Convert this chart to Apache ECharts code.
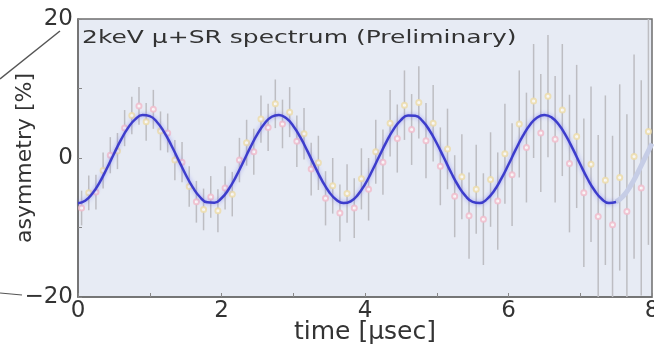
<!DOCTYPE html>
<html>
<head>
<meta charset="utf-8">
<script src="https://cdn.jsdelivr.net/npm/echarts@6/dist/echarts.min.js"></script>
<style>
html,body{margin:0;padding:0;background:#fff;}
#c{width:654px;height:350px;}
</style>
</head>
<body>
<div id="c"></div>
<script>
// measured data points (time in µs, asymmetry in %, error in %)
const pointTimes = [0.05,0.15,0.25,0.35,0.45,0.55,0.65,0.75,0.85,0.95,1.05,1.15,1.25,1.35,1.45,1.55,1.65,1.75,1.85,1.95,
  2.05,2.15,2.25,2.35,2.45,2.55,2.65,2.75,2.85,2.95,3.05,3.15,3.25,3.35,3.45,3.55,3.65,3.75,3.85,3.95,
  4.05,4.15,4.25,4.35,4.45,4.55,4.65,4.75,4.85,4.95,5.05,5.15,5.25,5.35,5.45,5.55,5.65,5.75,5.85,5.95,
  6.05,6.15,6.25,6.35,6.45,6.55,6.65,6.75,6.85,6.95,7.05,7.15,7.25,7.35,7.45,7.55,7.65,7.75,7.85,7.95];
const pointValues = [-7.2,-5.0,-4.9,-1.8,0.4,1.0,4.3,6.1,7.5,5.2,7.0,3.9,3.6,-0.3,-0.6,-4.1,-6.3,-7.4,-5.6,-7.6,
  -4.3,-5.2,-0.3,2.2,0.9,5.6,4.4,7.8,4.9,6.6,2.4,3.5,-1.6,-0.7,-5.8,-4.0,-7.9,-5.1,-7.2,-3.0,
  -4.5,0.9,-0.6,5.0,2.8,7.6,4.1,8.0,2.5,5.0,-1.2,1.3,-5.5,-2.7,-8.3,-4.5,-8.8,-3.1,-6.2,0.6,
  -2.4,4.9,1.5,8.2,3.6,8.9,2.7,6.9,-0.8,3.1,-5.0,-0.9,-8.4,-3.2,-9.6,-2.8,-7.7,0.2,-4.3,3.8];
const pointErrors = [2.5,2.5,2.5,2.6,2.6,2.6,2.6,2.7,2.7,2.7,2.8,2.8,2.8,2.9,2.9,2.9,3.0,3.0,3.0,3.1,
  3.1,3.2,3.2,3.3,3.3,3.4,3.4,3.5,3.5,3.6,3.7,3.7,3.8,3.9,3.9,4.0,4.1,4.2,4.3,4.4,
  4.5,4.6,4.7,4.8,4.9,5.0,5.1,5.2,5.4,5.5,5.6,5.8,5.9,6.1,6.2,6.4,6.6,6.8,7.0,7.2,
  7.4,7.7,7.9,8.2,8.5,8.8,9.1,9.5,9.9,10.3,10.7,11.2,11.7,12.2,12.8,13.4,14.0,14.7,15.5,16.3];

// fit curve (solid part, then faded extension)
const fitTimes = [0,0.1,0.2,0.3,0.4,0.5,0.6,0.7,0.8,0.9,1.0,1.1,1.2,1.3,1.4,1.5,1.6,1.7,1.8,1.9,
  2.0,2.1,2.2,2.3,2.4,2.5,2.6,2.7,2.8,2.9,3.0,3.1,3.2,3.3,3.4,3.5,3.6,3.7,3.8,3.9,
  4.0,4.1,4.2,4.3,4.4,4.5,4.6,4.7,4.8,4.9,5.0,5.1,5.2,5.3,5.4,5.5,5.6,5.7,5.8,5.9,
  6.0,6.1,6.2,6.3,6.4,6.5,6.6,6.7,6.8,6.9,7.0,7.1,7.2,7.3,7.4,7.5];
const fitValues = [-6.50,-6.15,-5.12,-3.53,-1.55,0.58,2.64,4.37,5.60,6.17,6.02,5.18,3.73,1.84,-0.27,-2.37,-4.22,-5.61,-6.38,-6.44,
  -5.79,-4.50,-2.71,-0.64,1.49,3.43,4.97,5.93,6.19,5.74,4.62,2.96,0.95,-1.19,-3.21,-4.88,-6.02,-6.49,-6.24,-5.30,
  -3.78,-1.84,0.28,2.36,4.16,5.46,6.13,6.09,5.34,3.96,2.12,0.03,-2.09,-3.99,-5.45,-6.31,-6.47,-5.92,-4.71,-2.98,
  -0.94,1.20,3.18,4.79,5.83,6.20,5.85,4.81,3.22,1.24,-0.90,-2.95,-4.68,-5.90,-6.47,-6.32];
const fadedTimes = [7.5,7.6,7.7,7.8,7.9,8.0];
const fadedValues = [-6.32,-5.47,-4.02,-2.13,-0.02,2.08];

const xTicks = {min:0, max:8, interval:2};
const yTicks = {min:-20, max:20, interval:20};

const errData = pointTimes.map((t,i)=>[t, pointValues[i]-pointErrors[i], pointValues[i]+pointErrors[i]]);
const ptData = pointTimes.map((t,i)=>[t, pointValues[i]]);
const fitData = fitTimes.map((t,i)=>[t, fitValues[i]]);
const fadedData = fadedTimes.map((t,i)=>[t, fadedValues[i]]);

const chart = echarts.init(document.getElementById('c'), null, {renderer:'canvas'});
const FONT = 'DejaVu Sans';
chart.setOption({
  backgroundColor:'#ffffff',
  animation:false,
  grid:{left:78, right:2, top:19, bottom:53, containLabel:false, outerBoundsMode:'none',
    show:true, backgroundColor:'#e7ebf4', borderColor:'#6e6e6e', borderWidth:1.5},
  xAxis:{type:'value', min:xTicks.min, max:xTicks.max, interval:xTicks.interval,
    name:'time [μsec]', nameLocation:'middle', nameGap:23, nameMoveOverlap:false,
    nameTextStyle:{fontFamily:FONT, fontSize:25, color:'#333'},
    axisLine:{show:true, onZero:false, lineStyle:{color:'#6e6e6e', width:1.5}},
    axisTick:{show:true, inside:true, length:4, lineStyle:{color:'#888'}},
    minorTick:{show:true, splitNumber:2, length:4, lineStyle:{color:'#888'}},
    splitLine:{show:false},
    axisLabel:{fontFamily:FONT, fontSize:23, color:'#333', margin:3, hideOverlap:false}},
  yAxis:{type:'value', min:yTicks.min, max:yTicks.max, interval:yTicks.interval,
    name:'asymmetry [%]', nameLocation:'middle', nameGap:42, nameRotate:90, nameMoveOverlap:false,
    nameTextStyle:{fontFamily:FONT, fontSize:22, color:'#333'},
    axisLine:{show:true, onZero:false, lineStyle:{color:'#6e6e6e', width:1.5}},
    axisTick:{show:true, inside:true, length:4, lineStyle:{color:'#888'}},
    minorTick:{show:true, splitNumber:2, length:4, lineStyle:{color:'#888'}},
    splitLine:{show:false},
    axisLabel:{fontFamily:FONT, fontSize:23, color:'#333', margin:5,
      formatter:v=>String(v).replace('-','\u2212')}},
  graphic:[
    {type:'text', left:82, top:29, scaleX:1.35, z:10,
      style:{text:'2keV μ+SR spectrum (Preliminary)', fontFamily:FONT, fontSize:18.5, fill:'#333'}},
    {type:'line', shape:{x1:0, y1:79, x2:60, y2:31}, style:{stroke:'#555', lineWidth:1.5}, z:10},
    {type:'line', shape:{x1:0, y1:293, x2:22, y2:295}, style:{stroke:'#555', lineWidth:1.2}, z:10}
  ],
  series:[
    {type:'custom', name:'err', clip:true, z:2,
      data:errData, encode:{x:0, y:[1,2]},
      renderItem:function(params, api){
        const a = api.coord([api.value(0), api.value(1)]);
        const b = api.coord([api.value(0), api.value(2)]);
        return {type:'line', shape:{x1:a[0], y1:a[1], x2:b[0], y2:b[1]},
          style:{stroke:'#bdbdc2', lineWidth:1.5}};
      }},
    {type:'scatter', name:'points', z:3, data:ptData, symbol:'emptyCircle', symbolSize:5,
      itemStyle:{color:function(p){return p.dataIndex%2 ? '#ecdcaa' : '#f0bccb';}, borderWidth:1.2, opacity:0.85}},
    {type:'line', name:'fitFaded', z:4, data:fadedData, smooth:true, symbol:'none',
      lineStyle:{color:'#c6cde6', width:5}},
    {type:'line', name:'fit', z:5, data:fitData, smooth:true, symbol:'none',
      lineStyle:{color:'#3d3dcc', width:2.5, shadowColor:'rgba(110,110,240,0.6)', shadowBlur:4}}
  ]
});
</script>
</body>
</html>
